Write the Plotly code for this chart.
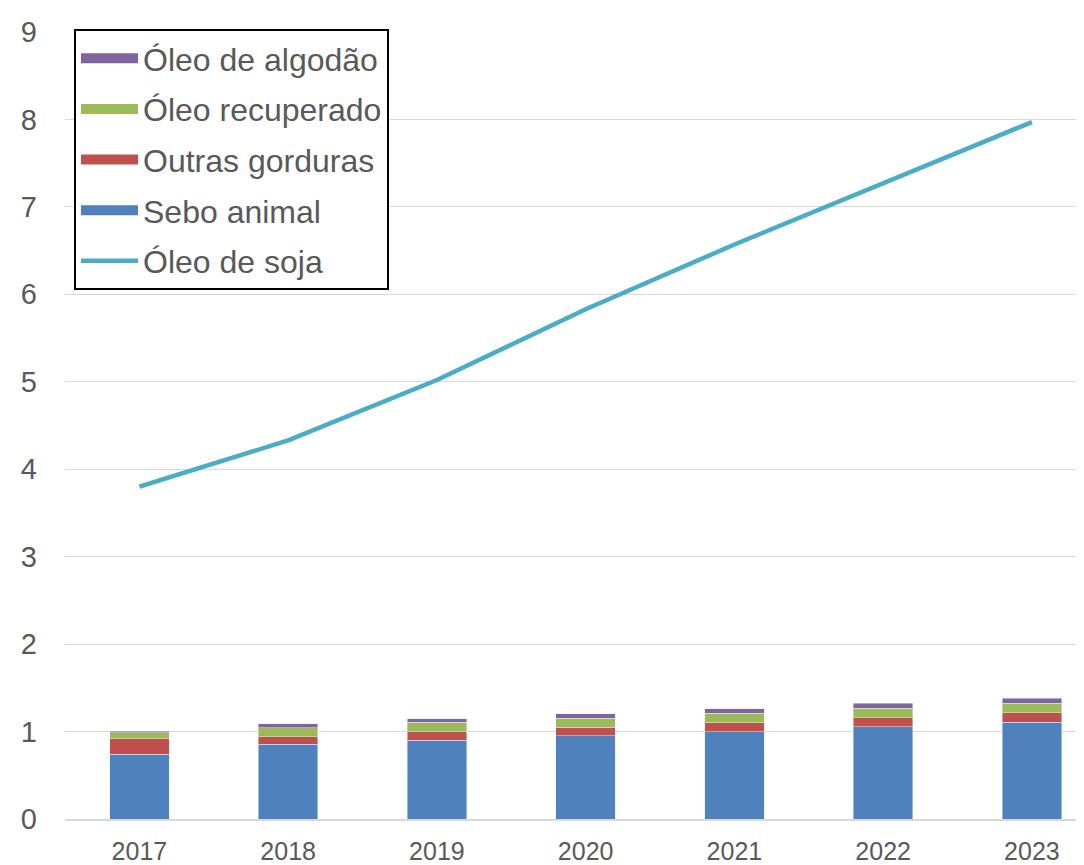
import plotly.graph_objects as go

years = ["2017", "2018", "2019", "2020", "2021", "2022", "2023"]
sebo_animal = [0.74, 0.855, 0.90, 0.952, 1.00, 1.055, 1.105]
outras_gorduras = [0.175, 0.086, 0.10, 0.096, 0.10, 0.103, 0.11]
oleo_recuperado = [0.07, 0.10, 0.107, 0.106, 0.108, 0.11, 0.11]
oleo_algodao = [0.02, 0.046, 0.04, 0.05, 0.05, 0.057, 0.057]
oleo_soja = [3.80, 4.33, 5.02, 5.83, 6.57, 7.27, 7.97]

bar_series = [
    ("Sebo animal", sebo_animal, "#4F81BD", 4),
    ("Outras gorduras", outras_gorduras, "#C0504D", 3),
    ("Óleo recuperado", oleo_recuperado, "#9BBB59", 2),
    ("Óleo de algodão", oleo_algodao, "#8064A2", 1),
]

fig = go.Figure()
for name, vals, color, rank in bar_series:
    fig.add_trace(go.Bar(x=years, y=vals, name=name, marker_color=color,
                         width=0.4, showlegend=False))
fig.add_trace(go.Scatter(x=years, y=oleo_soja, mode="lines", name="Óleo de soja",
                         line=dict(color="#4BACC6", width=4.5),
                         legendgroup="e", legendrank=5))
# legend swatches for the bar series (legend-only entries)
for name, vals, color, rank in bar_series:
    fig.add_trace(go.Scatter(x=[None], y=[None], mode="lines", name=name,
                             line=dict(color=color, width=15),
                             legendgroup=name, legendrank=rank))

fig.update_layout(
    width=1084, height=865,
    barmode="stack",
    plot_bgcolor="white", paper_bgcolor="white",
    margin=dict(l=57, r=8, t=17, b=52),
    font=dict(family="Liberation Sans, Arial, sans-serif", color="#595959", size=24),
    legend=dict(
        x=(74 - 65) / (1084 - 65), y=1 + 3 / 796, xanchor="left", yanchor="top",
        traceorder="grouped", tracegroupgap=6,
        bordercolor="black", borderwidth=2, bgcolor="white",
        font=dict(size=32, color="#595959"),
        itemwidth=57,
    ),
    xaxis=dict(type="category", range=[-0.5, 6.35], showgrid=False,
               showline=True, linecolor="#d9d9d9", linewidth=2,
               tickfont=dict(size=25), ticks="", ticklabelstandoff=9),
    yaxis=dict(range=[0, 9], dtick=1, showgrid=True, gridcolor="#d9d9d9", gridwidth=1,
               zeroline=False, showline=False, tickfont=dict(size=29),
               ticklabelstandoff=27),
    bargap=0.6,
)

fig.write_html("out.html")
